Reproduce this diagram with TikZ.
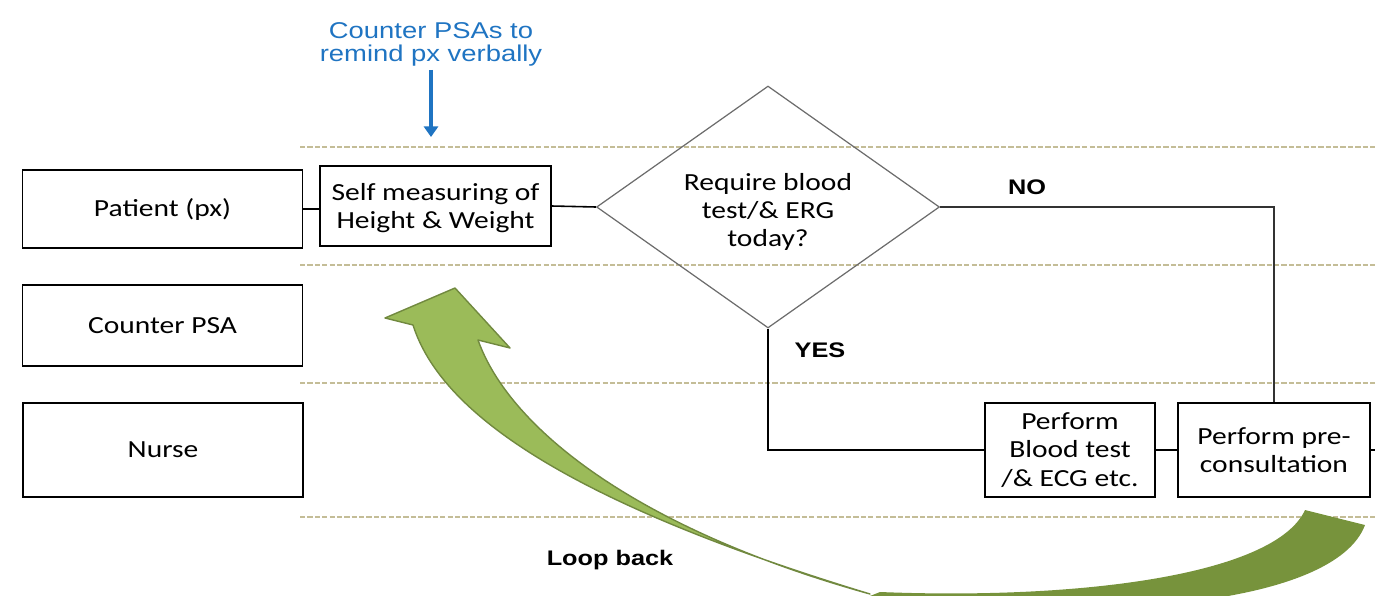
\documentclass[tikz,border=0pt]{standalone}
\usepackage{fontspec}
\setmainfont{Carlito}[FakeStretch=1.2]
\newfontfamily\arialfont{Liberation Sans}[FakeStretch=1.2]
\usetikzlibrary{shapes.geometric,arrows.meta}

\definecolor{lanetan}{HTML}{C4BD97}
\definecolor{psablue}{HTML}{1F74C2}
\definecolor{loopfront}{HTML}{9BBB59}
\definecolor{loopedge}{HTML}{71893F}
\definecolor{loopback}{HTML}{77933C}

\tikzset{
  lanebox/.style={draw, line width=0.9pt, minimum width=5.6cm, inner sep=0pt,
    font=\fontsize{14}{16}\selectfont},
  stepbox/.style={draw, line width=0.9pt, inner sep=0pt, align=center,
    font=\fontsize{14}{16}\selectfont},
  decision/.style={diamond, draw=gray!85!black, line width=0.7pt, inner sep=0pt,
    aspect=1.42, minimum width=6.86cm, minimum height=4.84cm},
  steptext/.style={align=center, inner sep=0pt, font=\fontsize{14}{16}\selectfont},
  laneline/.style={lanetan, line width=1.1pt, dash pattern=on 3pt off 1.2pt},
  answer/.style={font=\arialfont\bfseries\fontsize{12}{14}\selectfont},
}

\begin{document}
\begin{tikzpicture}[x=0.02cm, y=-0.02cm]

\useasboundingbox (0,0) rectangle (1375,595);

% swim lanes
\foreach \y in {147,265,383,517}
  \draw[laneline] (300,\y) -- (1375,\y);

\node[lanebox, minimum height=1.56cm] (patient) at (162.5,209) {Patient (px)};
\node[lanebox, minimum height=1.62cm] (counter) at (162.5,325.5) {Counter PSA};
\node[lanebox, minimum height=1.88cm] (nurse) at (163,450) {Nurse};

\node[stepbox, minimum width=4.62cm, minimum height=1.6cm] (self) at (435.5,206) {};
\node[steptext] (selftext) at (435.5,208) {Self measuring of\\Height \& Weight};
\node[decision] (ask) at (768,207) {};
\node[steptext] (asktext) at (768,212) {Require blood\\test/\& ERG\\today?};
\node[stepbox, minimum width=3.4cm, minimum height=1.88cm] (blood) at (1070,450)
  {Perform\\Blood test\\/\& ECG etc.};
\node[stepbox, minimum width=3.84cm, minimum height=1.88cm] (pre) at (1274,450)
  {Perform pre-\\consultation};
\coordinate (out) at (1380,450);

\draw[line width=0.9pt] (patient.east) -- (patient.east -| self.west);
\draw[line width=0.9pt] (self.east) -- (ask.west);
\draw[line width=0.9pt, black!80] (ask.east) -| (pre.north);
\draw[line width=1.6pt] (ask.south) |- (blood.west);
\draw[line width=0.9pt] (blood) -- (pre);
\draw[line width=0.9pt] (pre) -- (out);

\node[answer] (no) at (1027,187) {NO};
\node[answer] (yes) at (820,350) {YES};

% reminder from the counter
\node[psablue, align=center, font=\arialfont\fontsize{13}{13}\selectfont] (remind) at (431,44)
  {Counter PSAs to\\remind px verbally};
\coordinate (remindend) at (431,137);
\draw[psablue, line width=2.6pt, -{Triangle[width=8pt,length=6pt]}] (remind.south) ++(0,-2) -- (remindend);

% loop back arrow
\begin{scope}
\clip (0,0) rectangle (1375,595);
\fill[loopback] (1305,510) .. controls (1275,575) and (1080,600) .. (880,592)
  -- (870,596) .. controls (1100,625) and (1335,605) .. (1365,525) -- cycle;
\filldraw[fill=loopfront, draw=loopedge, line width=0.8pt, line join=round]
  (870,594) .. controls (560,500) and (440,410) .. (413,325)
  -- (385,318) -- (455,288) -- (510,348) -- (478,340)
  .. controls (510,430) and (640,530) .. (870,594) -- cycle;
\end{scope}
\node[font=\arialfont\bfseries\fontsize{12}{14}\selectfont] (loop) at (610,560) {Loop back};

\end{tikzpicture}
\end{document}
